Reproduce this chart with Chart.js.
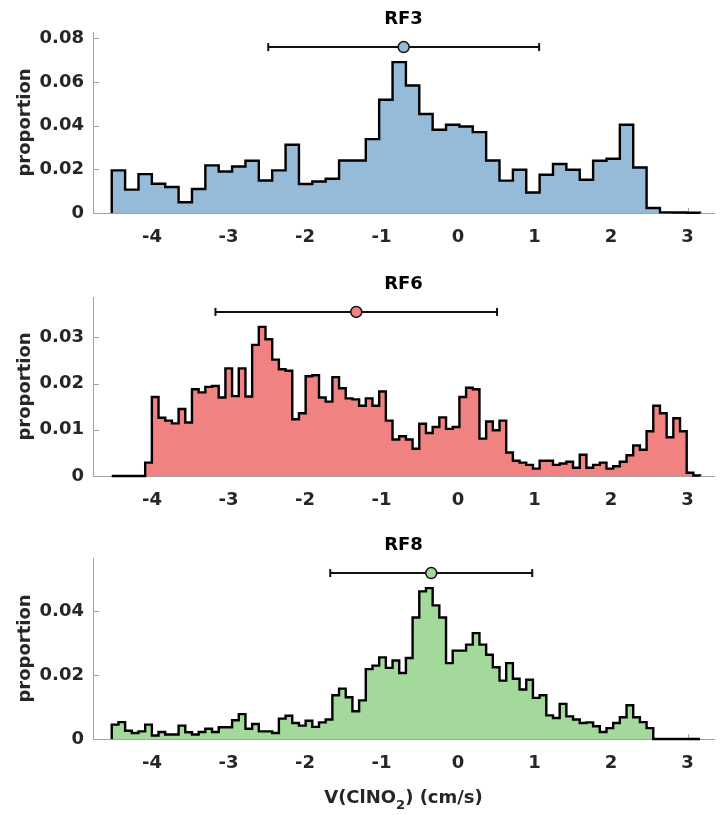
<!DOCTYPE html>
<html>
<head>
<meta charset="utf-8">
<script src="https://cdn.jsdelivr.net/npm/chart.js@4.4.1/dist/chart.umd.min.js"></script>
<style>
  body { margin: 0; background: #fff; }
  #wrap { position: relative; width: 721px; height: 815px; }
  #wrap canvas { position: absolute; left: 0; }
</style>
</head>
<body>
<div id="wrap">
  <canvas id="rf3" width="721" height="262" style="top:0px"></canvas>
  <canvas id="rf6" width="721" height="266" style="top:262px"></canvas>
  <canvas id="rf8" width="721" height="287" style="top:528px"></canvas>
</div>
<script>
// histogram bin range shared by all flights (cm/s)
const binStart = -4.525;
const binEnd = 3.163;

// proportion of samples per bin
const rf3Values = [
  0.0195, 0.0107, 0.0178, 0.0134, 0.0119, 0.0049, 0.0110, 0.0218, 0.0190, 0.0213,
  0.0239, 0.0149, 0.0195, 0.0312, 0.0133, 0.0144, 0.0157, 0.0240, 0.0240, 0.0338,
  0.0518, 0.0690, 0.0583, 0.0453, 0.0381, 0.0404, 0.0396, 0.0370, 0.0240, 0.0148,
  0.0198, 0.0094, 0.0175, 0.0224, 0.0198, 0.0152, 0.0239, 0.0248, 0.0404, 0.0208,
  0.0023, 0.0003, 0.0002, 0.0001
];
const rf6Values = [
  0, 0, 0, 0, 0, 0.0029, 0.0171, 0.0126, 0.0120, 0.0114,
  0.0145, 0.0116, 0.0188, 0.0181, 0.0193, 0.0195, 0.0170, 0.0233, 0.0173, 0.0233,
  0.0172, 0.0284, 0.0323, 0.0296, 0.0252, 0.0231, 0.0228, 0.0123, 0.0136, 0.0216,
  0.0218, 0.0170, 0.0161, 0.0214, 0.0190, 0.0168, 0.0166, 0.0152, 0.0168, 0.0152,
  0.0183, 0.0120, 0.0079, 0.0086, 0.0079, 0.0059, 0.0113, 0.0093, 0.0106, 0.0127,
  0.0102, 0.0106, 0.0171, 0.0191, 0.0188, 0.0081, 0.0118, 0.0099, 0.0120, 0.0051,
  0.0033, 0.0029, 0.0024, 0.0016, 0.0033, 0.0033, 0.0024, 0.0027, 0.0031, 0.0018,
  0.0046, 0.0018, 0.0024, 0.0029, 0.0016, 0.0021, 0.0031, 0.0045, 0.0066, 0.0057,
  0.0097, 0.0152, 0.0136, 0.0084, 0.0125, 0.0097, 0.0007, 0.0001
];
const rf8Values = [
  0.0045, 0.0053, 0.0026, 0.0019, 0.0024, 0.0045, 0.0011, 0.0022, 0.0014, 0.0014,
  0.0042, 0.0021, 0.0014, 0.0022, 0.0032, 0.0022, 0.0037, 0.0037, 0.0059, 0.0078,
  0.0032, 0.0047, 0.0024, 0.0024, 0.0019, 0.0064, 0.0073, 0.0050, 0.0042, 0.0057,
  0.0038, 0.0052, 0.0061, 0.0137, 0.0158, 0.0131, 0.0087, 0.0121, 0.0219, 0.0230,
  0.0256, 0.0223, 0.0246, 0.0207, 0.0254, 0.0381, 0.0463, 0.0473, 0.0419, 0.0381,
  0.0238, 0.0277, 0.0277, 0.0296, 0.0332, 0.0296, 0.0264, 0.0225, 0.0183, 0.0238,
  0.0189, 0.0155, 0.0186, 0.0129, 0.0137, 0.0074, 0.0066, 0.0110, 0.0071, 0.0061,
  0.0050, 0.0052, 0.0040, 0.0022, 0.0034, 0.0050, 0.0068, 0.0106, 0.0068, 0.0053,
  0.0034, 0, 0, 0, 0, 0, 0, 0
];

// mean +/- one standard deviation
const rf3Mean = -0.71, rf3Std = 1.77;
const rf6Mean = -1.33, rf6Std = 1.84;
const rf8Mean = -0.35, rf8Std = 1.32;

const xTicks = [-4, -3, -2, -1, 0, 1, 2, 3];
const rf3YTicks = [0, 0.02, 0.04, 0.06, 0.08];
const rf6YTicks = [0, 0.01, 0.02, 0.03];
const rf8YTicks = [0, 0.02, 0.04];

const axisGray = "#a3a3a3";
const textDark = "#262626";
const fontFamily = '"DejaVu Sans", sans-serif';

Chart.defaults.font.family = fontFamily;
Chart.defaults.font.weight = "bold";
Chart.defaults.font.size = 18;
Chart.defaults.color = textDark;

// outline of a histogram as a staircase: up at the first edge, down at the last
function stairs(values) {
  const w = (binEnd - binStart) / values.length;
  const pts = [{ x: binStart, y: 0 }];
  values.forEach((v, i) => pts.push({ x: binStart + i * w, y: v }));
  pts.push({ x: binEnd, y: 0 });
  return pts;
}

// inward tick marks, panel title, y label and (optionally) the x label
const panelDecor = {
  id: "panelDecor",
  beforeDatasetsDraw(chart) {
    const { ctx, chartArea, scales } = chart;
    ctx.save();
    ctx.strokeStyle = axisGray;
    ctx.lineWidth = 1;
    ctx.beginPath();
    scales.x.ticks.forEach((t) => {
      const px = Math.round(scales.x.getPixelForValue(t.value)) + 0.5;
      ctx.moveTo(px, chartArea.bottom);
      ctx.lineTo(px, chartArea.bottom - 5);
    });
    scales.y.ticks.forEach((t) => {
      const py = Math.round(scales.y.getPixelForValue(t.value)) + 0.5;
      ctx.moveTo(chartArea.left, py);
      ctx.lineTo(chartArea.left + 6, py);
    });
    ctx.stroke();
    ctx.restore();
  },
  afterDraw(chart, args, opts) {
    const { ctx, chartArea } = chart;
    const cx = (chartArea.left + chartArea.right) / 2;
    ctx.save();
    ctx.fillStyle = "#000";
    ctx.font = "bold 18px " + fontFamily;
    ctx.textAlign = "center";
    ctx.textBaseline = "alphabetic";
    ctx.fillText(opts.title, cx, chartArea.top - 8);

    ctx.save();
    ctx.fillStyle = textDark;
    ctx.translate(29.5, (chartArea.top + chartArea.bottom) / 2);
    ctx.rotate(-Math.PI / 2);
    ctx.fillText("proportion", 0, 0);
    ctx.restore();

    if (opts.xLabel) {
      // V(ClNO2) (cm/s) with a lowered subscript 2
      const big = "bold 18px " + fontFamily;
      const small = "bold 13px " + fontFamily;
      const a = "V(ClNO", b = "2", c = ") (cm/s)";
      ctx.font = big;
      const wa = ctx.measureText(a).width, wc = ctx.measureText(c).width;
      ctx.font = small;
      const wb = ctx.measureText(b).width;
      let x = cx - (wa + wb + wc) / 2;
      const y = chartArea.bottom + 64;
      ctx.textAlign = "left";
      ctx.fillStyle = textDark;
      ctx.font = big;
      ctx.fillText(a, x, y);
      x += wa;
      ctx.font = small;
      ctx.fillText(b, x, y + 6);
      x += wb;
      ctx.font = big;
      ctx.fillText(c, x, y);
    }
    ctx.restore();
  },
};

function makePanel(id, title, values, mean, std, yTicks, color, top, bottom, xLabel) {
  const canvas = document.getElementById(id);
  const peak = Math.max(...values);
  const barY = peak * 1.1;
  const xHeight = canvas.height - bottom;

  return new Chart(canvas, {
    type: "line",
    data: {
      datasets: [
        {
          // mean marker
          data: [{ x: mean, y: barY }],
          showLine: false,
          pointRadius: 5.5,
          pointBackgroundColor: color,
          pointBorderColor: "#111",
          pointBorderWidth: 1.5,
          clip: false,
        },
        {
          // +/- one standard deviation whisker with end caps
          data: [{ x: mean - std, y: barY }, { x: mean + std, y: barY }],
          borderColor: "#111",
          borderWidth: 2,
          pointStyle: "line",
          rotation: 90,
          pointRadius: 4,
          pointBorderColor: "#111",
          pointBorderWidth: 2,
          fill: false,
          clip: false,
        },
        {
          data: stairs(values),
          stepped: true,
          fill: "origin",
          backgroundColor: color,
          borderColor: "#000",
          borderWidth: 2.4,
          borderJoinStyle: "miter",
          pointRadius: 0,
          clip: false,
        },
      ],
    },
    options: {
      responsive: false,
      animation: false,
      events: [],
      layout: { padding: { top: top, left: 0, right: 1, bottom: 0 } },
      plugins: {
        legend: { display: false },
        tooltip: { enabled: false },
        panelDecor: { title: title, xLabel: xLabel },
      },
      scales: {
        x: {
          type: "linear",
          min: -4.77,
          max: 3.345,
          grid: { display: false, drawTicks: false },
          border: { display: true, color: axisGray, width: 1 },
          ticks: { padding: 14, maxRotation: 0 },
          afterBuildTicks: (s) => { s.ticks = xTicks.map((v) => ({ value: v })); },
          afterFit: (s) => { s.height = xHeight; s.paddingLeft = 0; s.paddingRight = 0; },
        },
        y: {
          type: "linear",
          min: 0,
          max: peak * 1.2,
          grid: { display: false, drawTicks: false },
          border: { display: true, color: axisGray, width: 1 },
          ticks: {
            padding: 9,
            callback: (v) => (v === 0 ? "0" : v.toFixed(2)),
          },
          afterBuildTicks: (s) => { s.ticks = yTicks.map((v) => ({ value: v })); },
          afterFit: (s) => { s.width = 93; s.paddingTop = 0; s.paddingBottom = 0; },
        },
      },
    },
    plugins: [panelDecor],
  });
}

makePanel("rf3", "RF3", rf3Values, rf3Mean, rf3Std, rf3YTicks, "#96bbd9", 32, 213, false);
makePanel("rf6", "RF6", rf6Values, rf6Mean, rf6Std, rf6YTicks, "#f18282", 35, 214, false);
makePanel("rf8", "RF8", rf8Values, rf8Mean, rf8Std, rf8YTicks, "#a3da9b", 30, 211, true);
</script>
</body>
</html>
